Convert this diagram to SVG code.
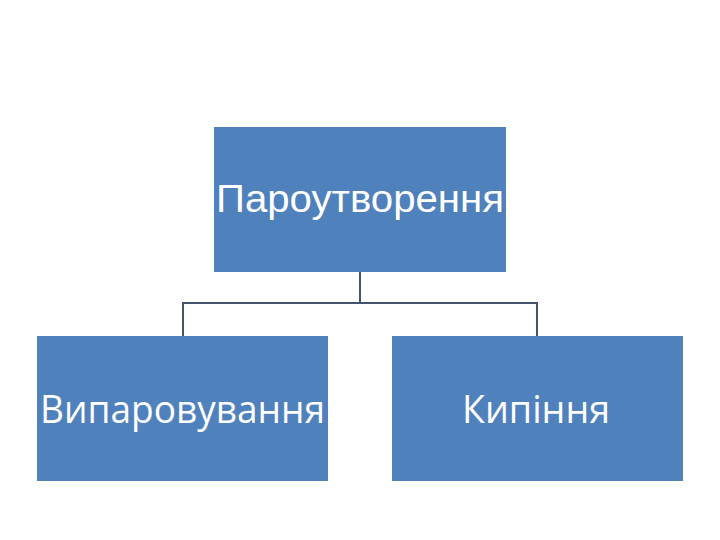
<svg xmlns="http://www.w3.org/2000/svg" width="720" height="540" viewBox="0 0 720 540">
<style>
.box{fill:#4F81BD;}
.t1{font-family:"Liberation Sans",Arial,sans-serif;font-size:38px;fill:#fff;}
.t2{font-family:"Open Sans","Noto Sans",sans-serif;font-size:38px;fill:#fff;}
.con{fill:none;stroke:#44546F;stroke-width:2;}
</style>
<rect width="720" height="540" fill="#fff"/>
<g id="connectors">
<path class="con" d="M360 272 V303 M183 303 H537 M183 302 V336 M537 302 V336"/>
</g>
<g id="node-top">
<rect class="box" x="214" y="127" width="292" height="145"/>
<text class="t1" x="360" y="212" text-anchor="middle" textLength="288" lengthAdjust="spacingAndGlyphs">Пароутворення</text>
</g>
<g id="node-left">
<rect class="box" x="37" y="336" width="291" height="145"/>
<text class="t2" x="40" y="423" textLength="285" lengthAdjust="spacingAndGlyphs">Випаровування</text>
</g>
<g id="node-right">
<rect class="box" x="392" y="336" width="291" height="145"/>
<text class="t2" x="462" y="423" textLength="148" lengthAdjust="spacingAndGlyphs">Кипіння</text>
</g>
</svg>
